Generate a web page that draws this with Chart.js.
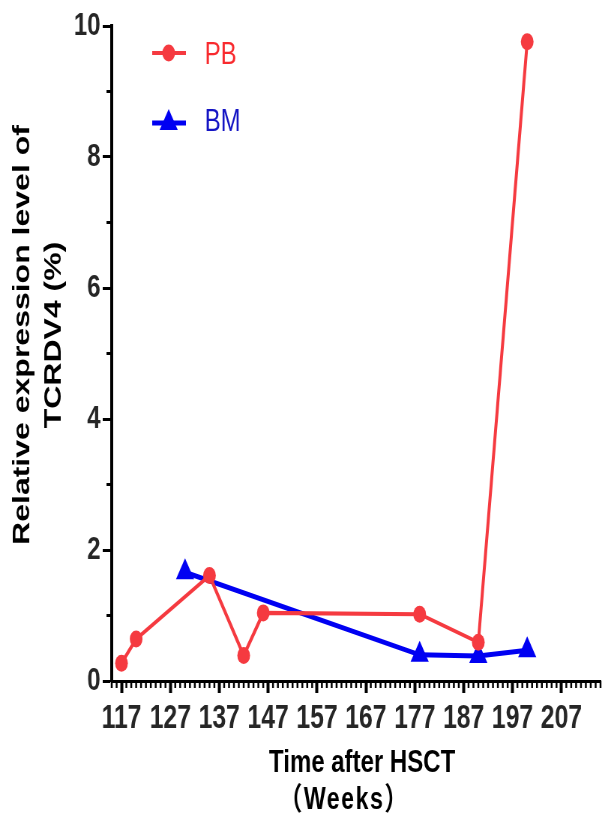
<!DOCTYPE html>
<html>
<head>
<meta charset="utf-8">
<script src="https://cdn.jsdelivr.net/npm/chart.js@4.4.0/dist/chart.umd.min.js"></script>
<style>
  body { margin: 0; overflow: hidden; background: #fff; }
  /* the figure is horizontally squeezed, so draw wide and compress */
  #wrap { width: 815px; height: 816px; transform: scaleX(0.7497); transform-origin: 0 0; }
  #chart { width: 815px; height: 816px; }
</style>
</head>
<body>
<div id="wrap"><canvas id="chart" width="815" height="816"></canvas></div>
<script>
const seriesNames = ['PB', 'BM'];
const weeksPB = [117, 120, 135, 142, 146, 178, 190, 200];
const valuesPB = [0.27, 0.64, 1.61, 0.39, 1.04, 1.02, 0.59, 9.76];
const weeksBM = [130, 178, 190, 200];
const valuesBM = [1.66, 0.40, 0.38, 0.47];
const xTicks = [117, 127, 137, 147, 157, 167, 177, 187, 197, 207];
const yTicks = [0, 2, 4, 6, 8, 10];
const yMinor = [1, 3, 5, 7, 9];

const RED = '#f53a40';
const BLUE = '#0000f2';
const FONT = '"Liberation Sans", Arial, sans-serif';

const toPoints = (xs, ys) => xs.map((x, i) => ({ x: x, y: ys[i] }));

// minor ticks, axis titles and the legend box inside the plot
const extras = {
    id: 'extras',
    afterDraw(chart) {
        const ctx = chart.ctx;
        const x = chart.scales.x, y = chart.scales.y;
        const area = chart.chartArea;
        ctx.save();
        ctx.strokeStyle = '#000';
        ctx.lineWidth = 2.5;
        for (let w = 115; w <= 215; w++) {
            if (xTicks.includes(w)) continue;
            const px = x.getPixelForValue(w);
            ctx.beginPath();
            ctx.moveTo(px, area.bottom);
            ctx.lineTo(px, area.bottom + 7);
            ctx.stroke();
        }
        ctx.lineWidth = 3;
        yMinor.forEach(v => {
            const py = y.getPixelForValue(v);
            ctx.beginPath();
            ctx.moveTo(area.left - 7, py);
            ctx.lineTo(area.left, py);
            ctx.stroke();
        });

        ctx.fillStyle = '#000';
        ctx.textAlign = 'center';
        ctx.textBaseline = 'alphabetic';
        ctx.font = 'bold 32px ' + FONT;
        ctx.save();
        ctx.translate(39, 335);
        ctx.rotate(-Math.PI / 2);
        ctx.fillText('Relative expression level of', 0, 0);
        ctx.restore();
        ctx.save();
        ctx.translate(81, 335);
        ctx.rotate(-Math.PI / 2);
        ctx.fillText('TCRDV4 (%)', 0, 0);
        ctx.restore();

        ctx.font = 'bold 32px ' + FONT;
        ctx.fillText('Time after HSCT', 483, 772);
        ctx.font = 'bold 31px "Liberation Sans", "Noto Sans CJK SC", sans-serif';
        ctx.letterSpacing = '2px';
        ctx.fillText('（Weeks）', 459, 809);
        ctx.letterSpacing = '0px';

        // legend
        ctx.lineWidth = 4;
        ctx.strokeStyle = RED;
        ctx.fillStyle = RED;
        ctx.beginPath();
        ctx.moveTo(203, 53);
        ctx.lineTo(248, 53);
        ctx.stroke();
        ctx.beginPath();
        ctx.arc(225, 53, 8.5, 0, Math.PI * 2);
        ctx.fill();
        ctx.textAlign = 'left';
        ctx.textBaseline = 'middle';
        ctx.font = '32px ' + FONT;
        ctx.fillStyle = '#f82a2e';
        ctx.fillText(seriesNames[0], 273, 55);

        ctx.lineWidth = 5;
        ctx.strokeStyle = BLUE;
        ctx.fillStyle = BLUE;
        ctx.beginPath();
        ctx.moveTo(203, 123);
        ctx.lineTo(248, 123);
        ctx.stroke();
        const r = 14;
        ctx.beginPath();
        ctx.moveTo(225, 123 - r);
        ctx.lineTo(225 + r * Math.sin(2 * Math.PI / 3), 123 + r / 2);
        ctx.lineTo(225 - r * Math.sin(2 * Math.PI / 3), 123 + r / 2);
        ctx.closePath();
        ctx.fill();
        ctx.fillStyle = '#1414c4';
        ctx.fillText(seriesNames[1], 273, 122);
        ctx.restore();
    }
};

new Chart(document.getElementById('chart'), {
    type: 'line',
    data: {
        datasets: [{
            label: seriesNames[0],
            data: toPoints(weeksPB, valuesPB),
            borderColor: RED,
            backgroundColor: RED,
            borderWidth: 4,
            pointStyle: 'circle',
            pointRadius: 8.5,
            pointBorderWidth: 0,
            clip: false
        },
        {
            label: seriesNames[1],
            data: toPoints(weeksBM, valuesBM),
            borderColor: BLUE,
            backgroundColor: BLUE,
            borderWidth: 5,
            pointStyle: 'triangle',
            pointRadius: 14,
            pointBorderWidth: 0,
            clip: false
        }]
    },
    options: {
        responsive: false,
        animation: false,
        devicePixelRatio: 1,
        layout: { padding: { top: 26, right: -2, left: 0, bottom: 0 } },
        plugins: { legend: { display: false }, tooltip: { enabled: false } },
        scales: {
            x: {
                type: 'linear',
                min: 115,
                max: 215,
                afterBuildTicks: s => { s.ticks = xTicks.map(v => ({ value: v })); },
                afterFit: s => { s.height = 135; },
                grid: { drawOnChartArea: false, tickLength: 12, tickWidth: 4, tickColor: '#000' },
                border: { color: '#000', width: 3 },
                ticks: { color: '#262626', padding: 6, maxRotation: 0, autoSkip: false,
                         font: { family: FONT, size: 33, weight: 'bold' } }
            },
            y: {
                min: 0,
                max: 10,
                afterBuildTicks: s => { s.ticks = yTicks.map(v => ({ value: v })); },
                afterFit: s => { s.width = 149; },
                grid: { drawOnChartArea: false, tickLength: 12, tickWidth: 3, tickColor: '#000' },
                border: { color: '#000', width: 4 },
                ticks: { color: '#262626', padding: 3,
                         font: { family: FONT, size: 32, weight: 'bold' } }
            }
        }
    },
    plugins: [extras]
});
</script>
</body>
</html>
